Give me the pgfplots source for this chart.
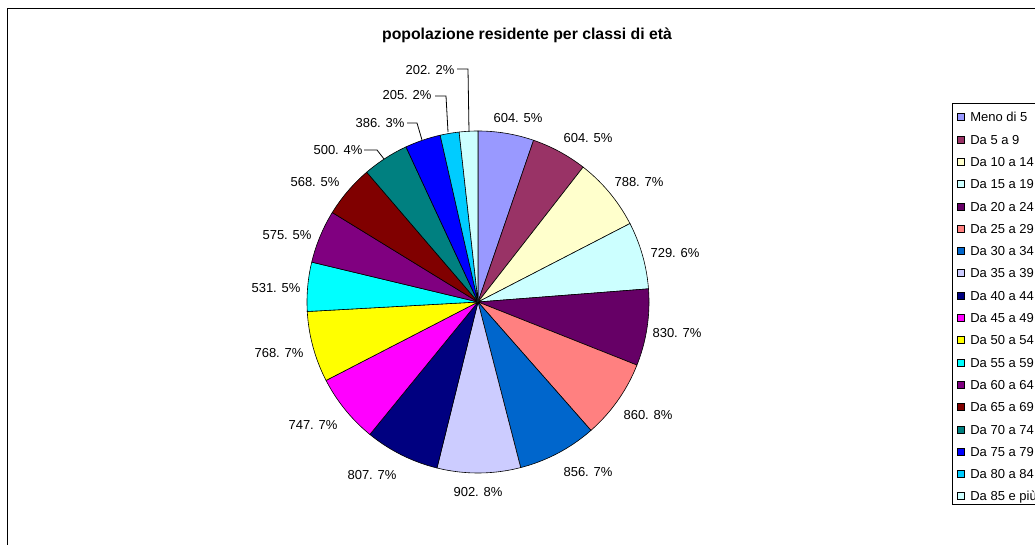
\documentclass[border=0pt]{standalone}
\usepackage{fontspec}
\setmainfont{Liberation Sans}
\usepackage{pgfplots}
\usepackage{pgfplotstable}
\pgfplotsset{compat=1.18}
\definecolor{c0}{HTML}{9999FF}
\definecolor{c1}{HTML}{993366}
\definecolor{c2}{HTML}{FFFFCC}
\definecolor{c3}{HTML}{CCFFFF}
\definecolor{c4}{HTML}{660066}
\definecolor{c5}{HTML}{FF8080}
\definecolor{c6}{HTML}{0066CC}
\definecolor{c7}{HTML}{CCCCFF}
\definecolor{c8}{HTML}{000080}
\definecolor{c9}{HTML}{FF00FF}
\definecolor{c10}{HTML}{FFFF00}
\definecolor{c11}{HTML}{00FFFF}
\definecolor{c12}{HTML}{800080}
\definecolor{c13}{HTML}{800000}
\definecolor{c14}{HTML}{008080}
\definecolor{c15}{HTML}{0000FF}
\definecolor{c16}{HTML}{00CCFF}
\definecolor{c17}{HTML}{CCFFFF}
\newcommand\labfont{\fontsize{13}{15}\selectfont}
\pgfplotstableread[col sep=comma]{
label,value,lx,ly
Meno di 5,604,518,427
Da 5 a 9,604,588,407
Da 10 a 14,788,639,363
Da 15 a 19,729,675,292
Da 20 a 24,830,677,212
Da 25 a 29,860,648,130
Da 30 a 34,856,588,73
Da 35 a 39,902,478,53
Da 40 a 44,807,372,70
Da 45 a 49,747,313,120
Da 50 a 54,768,279,192
Da 55 a 59,531,276,257
Da 60 a 64,575,287,310
Da 65 a 69,568,315,363
Da 70 a 74,500,338,395
Da 75 a 79,386,380,422
Da 80 a 84,205,407,450
Da 85 e più,202,430,475
}\agetable
\begin{document}
\begin{tikzpicture}[x=1pt,y=1pt]
\useasboundingbox (0,0) rectangle (1035,545);
\clip (0,0) rectangle (1035,545);
\pgfplotstablegetrowsof{\agetable}
\pgfmathtruncatemacro\lastrow{\pgfplotsretval-1}
\def\total{0}
\pgfplotsforeachungrouped \i in {0,...,\lastrow}{%
  \pgfplotstablegetelem{\i}{value}\of\agetable
  \pgfmathsetmacro\total{\total+\pgfplotsretval}}
\begin{axis}[at={(0,0)}, anchor=south west, width=1035pt, height=545pt,
  scale only axis, xmin=0, xmax=1035, ymin=0, ymax=545, hide axis, clip=false,
  legend style={at={(axis cs:952,434.75)}, anchor=north west, draw=none,
    fill=none, inner xsep=5pt, inner ysep=0pt,
    font=\labfont, row sep=8.8pt, column sep=5.5pt, legend cell align=left,
    nodes={inner sep=0pt, text height=11.4pt, text depth=2.1pt}},
  legend image code/.code={\draw[#1, line width=0.6pt] (0pt,-3.5pt) rectangle (7pt,3.5pt);}]
\fill[white] (axis cs:952,442) rectangle (axis cs:1045,41);
\def\cum{0}
\pgfplotsforeachungrouped \i in {0,...,\lastrow}{%
  \pgfplotstablegetelem{\i}{value}\of\agetable \let\val\pgfplotsretval
  \pgfplotstablegetelem{\i}{label}\of\agetable \let\lab\pgfplotsretval
  \pgfplotstablegetelem{\i}{lx}\of\agetable \let\lx\pgfplotsretval
  \pgfplotstablegetelem{\i}{ly}\of\agetable \let\ly\pgfplotsretval
  \pgfmathsetmacro\aone{90-360*(\cum/\total)}
  \pgfmathsetmacro\cum{\cum+\val}
  \pgfmathsetmacro\atwo{90-360*(\cum/\total)}
  \pgfmathtruncatemacro\pct{round(100*(\val/\total))}
  \edef\temp{\noexpand\addplot[fill=c\i, draw=black, line width=0.6pt,
      domain=\atwo:\aone, samples=40, variable=\noexpand\t]
      ({478+171*cos(\noexpand\t)},{243+171*sin(\noexpand\t)}) -- (axis cs:478,243) -- cycle;
    \noexpand\addlegendentry{\lab}
    \noexpand\node[font=\noexpand\labfont, inner sep=0pt] at (axis cs:\lx,\ly) {\val. \pct\noexpand\%};}
  \temp
}
% leader lines
\draw[line width=0.8pt] (axis cs:364,395) -- (axis cs:377,395) -- (axis cs:384,386);
\draw[line width=0.8pt] (axis cs:407,422) -- (axis cs:417,422) -- (axis cs:422,405);
\draw[line width=0.8pt] (axis cs:435,449) -- (axis cs:446,449) -- (axis cs:448,413);
\draw[line width=0.8pt] (axis cs:457,476) -- (axis cs:468,476) -- (axis cs:469,413);
\node[font=\bfseries\fontsize{15.8}{18}\selectfont] at (axis cs:527,510) {popolazione residente per classi di età};
\draw[line width=0.8pt] (axis cs:952,442) rectangle (axis cs:1045,41);
\draw[line width=1.5pt] (axis cs:7.5,536.5) rectangle (axis cs:1045,-10);
\end{axis}
\end{tikzpicture}
\end{document}
